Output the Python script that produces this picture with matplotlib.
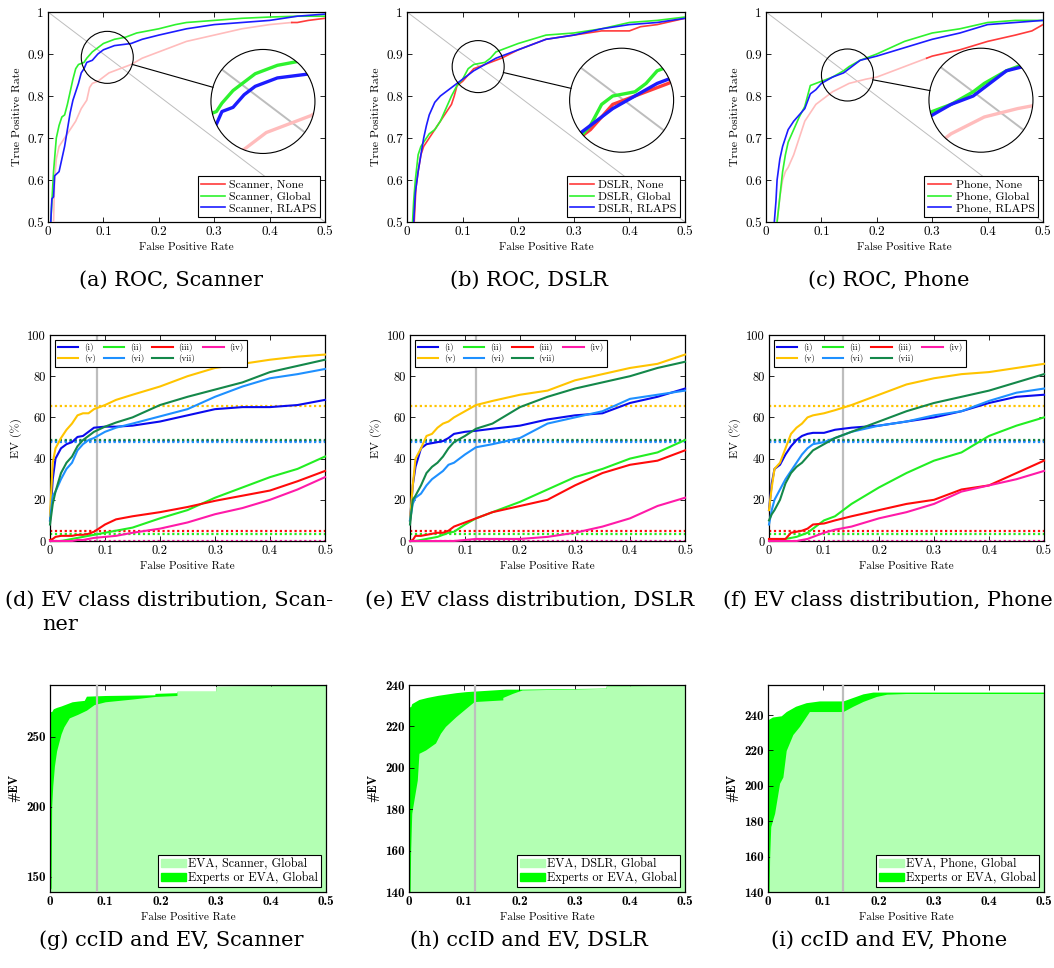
import numpy as np
import matplotlib
matplotlib.use('Agg')
import matplotlib.pyplot as plt
from matplotlib.patches import Circle, Ellipse, Patch
from matplotlib.lines import Line2D
from matplotlib.ticker import FuncFormatter

# ---------------------------------------------------------------- data
DEVICES = ['Scanner', 'DSLR', 'Phone']

# ROC curves (FPR, TPR)
SCN_NONE_FPR = [0.01,0.012,0.015,0.02,0.03,0.04,0.05,0.06,0.07,0.075,0.08,0.09,0.1,0.11,0.13,0.15,0.17,0.2,0.22,0.25,0.3,0.35,0.4,0.44,0.45,0.47,0.5]
SCN_NONE_TPR = [0.5,0.6,0.65,0.68,0.7,0.72,0.74,0.77,0.79,0.82,0.83,0.835,0.845,0.855,0.865,0.875,0.89,0.905,0.915,0.93,0.945,0.96,0.97,0.975,0.975,0.98,0.985]
SCN_GLOB_FPR = [0.005,0.01,0.015,0.02,0.025,0.03,0.035,0.04,0.045,0.05,0.055,0.065,0.07,0.08,0.09,0.1,0.12,0.14,0.16,0.18,0.2,0.23,0.25,0.3,0.35,0.4,0.45,0.5]
SCN_GLOB_TPR = [0.5,0.62,0.7,0.73,0.75,0.755,0.78,0.81,0.84,0.865,0.875,0.88,0.89,0.905,0.915,0.925,0.935,0.94,0.95,0.955,0.96,0.97,0.975,0.98,0.985,0.988,0.99,0.99]
SCN_RLAP_FPR = [0.005,0.007,0.01,0.012,0.02,0.025,0.03,0.035,0.04,0.045,0.05,0.055,0.06,0.065,0.07,0.08,0.09,0.1,0.11,0.12,0.15,0.17,0.2,0.25,0.3,0.35,0.4,0.45,0.5]
SCN_RLAP_TPR = [0.5,0.555,0.56,0.61,0.62,0.65,0.68,0.72,0.76,0.79,0.81,0.83,0.855,0.865,0.88,0.885,0.9,0.91,0.915,0.92,0.925,0.935,0.945,0.96,0.97,0.975,0.98,0.99,0.995]

DSL_NONE_FPR = [0.013,0.016,0.02,0.025,0.03,0.04,0.05,0.06,0.07,0.08,0.085,0.09,0.1,0.11,0.12,0.13,0.15,0.17,0.2,0.25,0.3,0.35,0.4,0.42,0.45,0.5]
DSL_NONE_TPR = [0.5,0.58,0.62,0.66,0.68,0.7,0.72,0.74,0.76,0.78,0.8,0.825,0.835,0.85,0.865,0.87,0.88,0.89,0.91,0.935,0.945,0.955,0.955,0.965,0.97,0.985]
DSL_GLOB_FPR = [0.01,0.012,0.015,0.02,0.025,0.03,0.04,0.05,0.06,0.07,0.08,0.09,0.1,0.11,0.12,0.14,0.15,0.16,0.18,0.2,0.25,0.3,0.35,0.4,0.45,0.5]
DSL_GLOB_TPR = [0.5,0.55,0.6,0.66,0.68,0.69,0.71,0.72,0.74,0.77,0.8,0.825,0.84,0.865,0.875,0.88,0.89,0.905,0.915,0.925,0.945,0.95,0.96,0.975,0.98,0.988]
DSL_RLAP_FPR = [0.012,0.015,0.02,0.025,0.03,0.035,0.04,0.05,0.06,0.07,0.08,0.09,0.1,0.12,0.14,0.16,0.18,0.2,0.25,0.3,0.35,0.4,0.45,0.5]
DSL_RLAP_TPR = [0.5,0.57,0.62,0.66,0.7,0.73,0.755,0.785,0.8,0.81,0.82,0.83,0.84,0.86,0.875,0.89,0.9,0.91,0.935,0.945,0.96,0.97,0.975,0.985]

PHN_NONE_FPR = [0.02,0.025,0.03,0.035,0.04,0.05,0.06,0.07,0.08,0.09,0.1,0.12,0.15,0.18,0.2,0.22,0.25,0.28,0.29,0.3,0.35,0.4,0.45,0.48,0.5]
PHN_NONE_TPR = [0.5,0.56,0.6,0.62,0.63,0.66,0.7,0.74,0.76,0.78,0.79,0.81,0.83,0.84,0.845,0.855,0.87,0.885,0.89,0.895,0.91,0.93,0.945,0.955,0.97]
PHN_GLOB_FPR = [0.02,0.025,0.03,0.035,0.04,0.05,0.06,0.07,0.075,0.08,0.09,0.1,0.12,0.14,0.15,0.17,0.2,0.25,0.3,0.35,0.4,0.45,0.5]
PHN_GLOB_TPR = [0.5,0.56,0.62,0.66,0.69,0.72,0.75,0.775,0.8,0.825,0.83,0.835,0.845,0.86,0.87,0.885,0.9,0.93,0.95,0.96,0.975,0.98,0.98]
PHN_RLAP_FPR = [0.015,0.018,0.02,0.025,0.03,0.04,0.05,0.06,0.07,0.08,0.09,0.1,0.12,0.14,0.15,0.17,0.2,0.25,0.3,0.35,0.4,0.45,0.5]
PHN_RLAP_TPR = [0.5,0.55,0.6,0.65,0.68,0.72,0.74,0.755,0.77,0.805,0.815,0.83,0.845,0.855,0.865,0.885,0.895,0.915,0.935,0.95,0.97,0.975,0.98]

# FPR up to which the "None" curve is drawn pale
NONE_PALE_UNTIL = [0.44, 0.0, 0.29]

# EV class distribution (percent) on a common FPR grid
EV_FPR = [0, 0.005, 0.01, 0.02, 0.03, 0.04, 0.05, 0.06, 0.07, 0.08, 0.1, 0.12, 0.15, 0.2, 0.25, 0.3, 0.35, 0.4, 0.45, 0.5]
EV_CLASSES = ['(i)', '(ii)', '(iii)', '(iv)', '(v)', '(vi)', '(vii)']
EV_PRIOR = [48.5, 3.5, 5.0, 0.0, 65.5, 48.0, 49.0]

EV_SCN_I   = [10,30,40,45,47,48,50.5,51,53,55,55.5,55.5,56,58,61,64,65,65,66,68.5]
EV_SCN_II  = [0,0,0,0,0.5,1,1.5,2,2.5,3,4,5,6.5,11,15,21,26,31,35,41]
EV_SCN_III = [0.5,1,2,2.5,2.5,2.5,3,3,3.5,4.5,8,10.5,12,14,16.5,19.5,22,24.5,29,34]
EV_SCN_IV  = [0,0,0,0,0,0,0.5,0.5,1,1.5,2,2.5,4,6,9,13,16,20,25,31]
EV_SCN_V   = [12,38,45,50,54,57,61,62,62,64,66,68.5,71,75,80,84,86,88,89.5,90.5]
EV_SCN_VI  = [10,22,24,30,35,38,44,47,49,50,53,55,57,60.5,64,70,75,79,81,83.5]
EV_SCN_VII = [8,18,24,33,38,41,46,49,51,53,55.5,57.5,60,66,70,73.5,77,82,85,88]

EV_DSL_I   = [10,27,36,45,47,47.5,48,48.5,50,52,53,53.5,54.5,56,59,61,62,67,70,74]
EV_DSL_II  = [0,0,0,0.5,1,1.5,2,3,4,4.5,8,11,14,19,25,31,35,40,43,49]
EV_DSL_III = [0,0.5,2.5,2.5,3,3.5,4,4,5,7,9,11,14,17,20,27,33,37,39,44]
EV_DSL_IV  = [0,0,0,0,0,0,0,0,0,0,0.5,1,1,1,2,4,7,11,17,21]
EV_DSL_V   = [10,27,40,45,51,52,55,57,58,60,63,66,68,71,73,78,81,84,86,90.5]
EV_DSL_VI  = [10,18,21,23,27,30,32,34,37,38,42,45.5,47,50,57,60,63,69,71,73]
EV_DSL_VII = [8,20,22,27,33,36,38,41,45,48,51,54.5,57,65,70,74,77,80,84,87]

EV_PHN_I   = [15,28,35,37,42,46,49,51,52,52.5,52.5,54,55,56,58,60,63,67,70,71]
EV_PHN_II  = [0,0,0,0.5,1,1.5,2,3,4,6,10,12,18,26,33,39,43,51,56,60]
EV_PHN_III = [1,1,1,1,1,4,4.5,5,6,8,8.5,10,12,15,18,20,25,27,33,39]
EV_PHN_IV  = [0,0,0,0,0,0,0,0.5,1,2,4,5.5,7,11,14,18,24,27,30,34]
EV_PHN_V   = [15,26,35,38,45,52,55,57,60,61,62,63.5,66,71,76,79,81,82,84,86]
EV_PHN_VI  = [8,15,20,25,30,34,38,42,45,47,48,50,53,56,58,61,63,68,72,74]
EV_PHN_VII = [10,13,15,20,28,33,36,38,41,44,47,50,53,58,63,67,70,73,77,81]

# operating-point FPR (grey vertical line)
OP_FPR = [0.085, 0.12, 0.135]

# ccID / #EV curves (upper: experts or EVA, lower: EVA)
CC_SCN_EXP_X = [0,0.003,0.006,0.012,0.02,0.03,0.04,0.05,0.062,0.066,0.1,0.19,0.19,0.23,0.23,0.3,0.3,0.5]
CC_SCN_EXP_Y = [268,268,270,271,272,273.5,275,275.5,276,279,279.5,280,281,281.5,282.5,282.5,286,286.5]
CC_SCN_EVA_X = [0,0.002,0.003,0.005,0.008,0.012,0.02,0.025,0.035,0.05,0.066,0.08,0.1,0.15,0.19,0.23,0.23,0.3,0.3,0.5]
CC_SCN_EVA_Y = [140,142,200,215,229,240,252,257,263.5,266,269,273,275,277,278.8,279.5,282.5,282.5,286,286.5]

CC_DSL_EXP_X = [0,0.003,0.005,0.018,0.033,0.052,0.085,0.103,0.175,0.205,0.357,0.357,0.5]
CC_DSL_EXP_Y = [229.5,229.5,231,233,234,235,236.3,236.8,238,238,238.5,239.5,240]
CC_DSL_EVA_X = [0,0.002,0.003,0.005,0.009,0.015,0.018,0.03,0.048,0.057,0.066,0.085,0.103,0.118,0.17,0.17,0.188,0.205,0.357,0.357,0.5]
CC_DSL_EVA_Y = [140,140,160,178,184.5,194,207,208.6,212,216.7,220,224.7,228.7,232,232.8,234,236,237.6,238.4,239.5,240]

CC_PHN_EXP_X = [0,0.008,0.024,0.033,0.05,0.069,0.093,0.136,0.154,0.172,0.19,0.5]
CC_PHN_EXP_Y = [237.4,238.9,239.6,242,245,247,248,248,250,252,253,253]
CC_PHN_EVA_X = [0,0.002,0.003,0.005,0.012,0.021,0.027,0.033,0.045,0.057,0.075,0.136,0.154,0.172,0.196,0.215,0.25,0.5]
CC_PHN_EVA_Y = [140,140,160,177,184.5,201.5,205,220,229,233.6,242,242,245,247.7,250.5,251.8,252.2,252.2]

CC_YLIM = [(139, 287), (140, 240), (140, 257)]
CC_YTICKS = [[150, 200, 250], [140, 160, 180, 200, 220, 240], [140, 160, 180, 200, 220, 240]]

DIAG_X = [0, 0.5]
DIAG_Y = [1, 0.5]

CAPTIONS_ROW1 = ['(a) ROC, Scanner', '(b) ROC, DSLR', '(c) ROC, Phone']
CAPTIONS_ROW2 = ['(d) EV class distribution, Scan-', '(e) EV class distribution, DSLR', '(f) EV class distribution, Phone']
CAPTIONS_ROW3 = ['(g) ccID and EV, Scanner', '(h) ccID and EV, DSLR', '(i) ccID and EV, Phone']

# ---------------------------------------------------------------- style
plt.rcParams['font.family'] = 'cmr10'
plt.rcParams['mathtext.fontset'] = 'cm'
plt.rcParams['axes.unicode_minus'] = False
plt.rcParams['axes.formatter.use_mathtext'] = True

W, H = 1054, 968
fig = plt.figure(figsize=(W / 100, H / 100), dpi=100)
CAP_FONT = dict(fontfamily='DejaVu Serif', fontsize=15)

def px_axes(l, r, t, b):
    return fig.add_axes([l / W, 1 - b / H, (r - l) / W, (b - t) / H])

fmt = FuncFormatter(lambda v, p: f'{v:g}')

def style(ax, bold=False, size=9):
    ax.tick_params(direction='in', top=True, right=True, length=3.5, width=0.6,
                   labelsize=size, pad=3)
    for s in ax.spines.values():
        s.set_linewidth(0.9)
    ax.xaxis.set_major_formatter(fmt)
    ax.yaxis.set_major_formatter(fmt)
    if bold:
        for lab in ax.get_xticklabels() + ax.get_yticklabels():
            lab.set_fontfamily('cmb10')

RED = '#ff3b3b'
PINK = '#ffbcbc'
GREEN = '#2ef22e'
BLUE = '#1c1cff'
GREY = '#bdbdbd'

ROC_DATA = [
    (SCN_NONE_FPR, SCN_NONE_TPR, SCN_GLOB_FPR, SCN_GLOB_TPR, SCN_RLAP_FPR, SCN_RLAP_TPR),
    (DSL_NONE_FPR, DSL_NONE_TPR, DSL_GLOB_FPR, DSL_GLOB_TPR, DSL_RLAP_FPR, DSL_RLAP_TPR),
    (PHN_NONE_FPR, PHN_NONE_TPR, PHN_GLOB_FPR, PHN_GLOB_TPR, PHN_RLAP_FPR, PHN_RLAP_TPR),
]
SPY_SMALL = [(0.107, 0.892), (0.128, 0.870), (0.147, 0.850)]
SPY_BIG = [(0.388, 0.787), (0.386, 0.790), (0.388, 0.790)]

ROW1 = [(48, 325), (407, 685), (766, 1043)]
ROW2 = [(50, 325), (410, 685), (769, 1044)]
ROW3 = [(50, 326), (409, 685), (768, 1044)]
CAP_X = [171, 529, 889]


def roc_curves(k):
    nf, nt, gf, gt, rf, rt = [np.asarray(a) for a in ROC_DATA[k]]
    split = NONE_PALE_UNTIL[k]
    out = []
    pale = nf <= split
    if pale.sum() > 1:
        out.append((nf[pale], nt[pale], PINK))
    dark = nf >= split
    out.append((nf[dark], nt[dark], RED))
    out.append((gf, gt, GREEN))
    out.append((rf, rt, BLUE))
    return out


def spy(ax, curves, small, big, r_small=26.0, mag=2.0):
    sx, sy = ax.transData.transform(small)
    bx, by = ax.transData.transform(big)
    r_big = r_small * mag
    inv = ax.transData.inverted()
    x0, y0 = inv.transform((sx - r_small, sy - r_small))
    x1, y1 = inv.transform((sx + r_small, sy + r_small))
    ax.add_patch(Ellipse(small, x1 - x0, y1 - y0, fill=False, ec='black', lw=0.8, zorder=6))
    ax_in = fig.add_axes([(bx - r_big) / W, (by - r_big) / H, 2 * r_big / W, 2 * r_big / H])
    ax_in.set_xlim(x0, x1)
    ax_in.set_ylim(y0, y1)
    ax_in.axis('off')
    circ = Circle((0.5, 0.5), 0.5, transform=ax_in.transAxes, fc='white', ec='none', zorder=0)
    ax_in.add_patch(circ)
    ln, = ax_in.plot(DIAG_X, DIAG_Y, color=GREY, lw=0.7 * mag, zorder=1)
    ln.set_clip_path(circ)
    for x, y, c in curves:
        ln, = ax_in.plot(x, y, color=c, lw=1.2 * mag, zorder=2)
        ln.set_clip_path(circ)
    ax_in.add_patch(Circle((0.5, 0.5), 0.5, transform=ax_in.transAxes, fill=False,
                           ec='black', lw=0.8, clip_on=False, zorder=5))
    d = np.array([bx - sx, by - sy])
    d /= np.hypot(*d)
    p0 = np.array([sx, sy]) + d * r_small
    p1 = np.array([bx, by]) - d * r_big
    fig.add_artist(Line2D([p0[0] / W, p1[0] / W], [p0[1] / H, p1[1] / H],
                          transform=fig.transFigure, color='black', lw=0.8))


LEG_KW = dict(frameon=True, fancybox=False, framealpha=1, edgecolor='black')

# ---------------------------------------------------------------- row 1: ROC
for k, dev in enumerate(DEVICES):
    l, r = ROW1[k]
    ax = px_axes(l, r, 12, 222)
    ax.set_xlim(0, 0.5)
    ax.set_ylim(0.5, 1)
    ax.set_xticks([0, 0.1, 0.2, 0.3, 0.4, 0.5])
    ax.set_yticks([0.5, 0.6, 0.7, 0.8, 0.9, 1])
    style(ax, size=9.5)
    ax.plot(DIAG_X, DIAG_Y, color=GREY, lw=0.7, zorder=1)
    curves = roc_curves(k)
    for x, y, c in curves:
        ax.plot(x, y, color=c, lw=1.2, zorder=3)
    handles = [Line2D([], [], color=RED, lw=1.2), Line2D([], [], color=GREEN, lw=1.2),
               Line2D([], [], color=BLUE, lw=1.2)]
    leg = ax.legend(handles, [f'{dev}, None', f'{dev}, Global', f'{dev}, RLAPS'],
                    loc='lower right', fontsize=8.5, borderpad=0.3, handlelength=2.0,
                    labelspacing=0.12, handletextpad=0.4, borderaxespad=0.4, **LEG_KW)
    leg.get_frame().set_linewidth(0.8)
    leg.set_zorder(10)
    ax.set_xlabel('False Positive Rate', fontsize=8, labelpad=3)
    ax.set_ylabel('True Positive Rate', fontsize=8.5, labelpad=4)
    spy(ax, curves, SPY_SMALL[k], SPY_BIG[k])
    fig.text(CAP_X[k] / W, 1 - 280 / H, CAPTIONS_ROW1[k], ha='center', va='center', **CAP_FONT)

# ---------------------------------------------------------------- row 2: EV
EV_COLORS = ['#0a0aee', '#22ee22', '#ff0a0a', '#ff1aa8', '#ffc400', '#1e90ff', '#14884a']
EV_DATA = [
    [EV_SCN_I, EV_SCN_II, EV_SCN_III, EV_SCN_IV, EV_SCN_V, EV_SCN_VI, EV_SCN_VII],
    [EV_DSL_I, EV_DSL_II, EV_DSL_III, EV_DSL_IV, EV_DSL_V, EV_DSL_VI, EV_DSL_VII],
    [EV_PHN_I, EV_PHN_II, EV_PHN_III, EV_PHN_IV, EV_PHN_V, EV_PHN_VI, EV_PHN_VII],
]
for k, dev in enumerate(DEVICES):
    l, r = ROW2[k]
    ax = px_axes(l, r, 335, 541)
    ax.set_xlim(0, 0.5)
    ax.set_ylim(0, 100)
    ax.set_xticks([0, 0.1, 0.2, 0.3, 0.4, 0.5])
    ax.set_yticks([0, 20, 40, 60, 80, 100])
    style(ax, size=9)
    ax.axvline(OP_FPR[k], color=GREY, lw=1.6, zorder=1)
    lines = []
    for j, name in enumerate(EV_CLASSES):
        ax.axhline(EV_PRIOR[j], color=EV_COLORS[j], lw=1.6, ls=(0, (1, 1.2)), zorder=2)
    for j, name in enumerate(EV_CLASSES):
        ln, = ax.plot(EV_FPR, EV_DATA[k][j], color=EV_COLORS[j], lw=1.5, zorder=3,
                      clip_on=False)
        lines.append(ln)
    order = [0, 4, 1, 5, 2, 6, 3]
    leg = ax.legend([lines[i] for i in order], [EV_CLASSES[i] for i in order],
                    loc='upper left', ncol=4, fontsize=6.5, borderpad=0.35, handlelength=2.3,
                    labelspacing=0.3, handletextpad=0.6, columnspacing=0.9,
                    borderaxespad=0.5, **LEG_KW)
    leg.get_frame().set_linewidth(0.8)
    leg.set_zorder(10)
    ax.set_xlabel('False Positive Rate', fontsize=8, labelpad=3)
    ax.set_ylabel('EV (%)', fontsize=8.5, labelpad=4)

fig.text(5 / W, 1 - 600 / H, CAPTIONS_ROW2[0], ha='left', va='center', **CAP_FONT)
fig.text(42 / W, 1 - 625 / H, 'ner', ha='left', va='center', **CAP_FONT)
fig.text(365 / W, 1 - 600 / H, CAPTIONS_ROW2[1], ha='left', va='center', **CAP_FONT)
fig.text(723 / W, 1 - 600 / H, CAPTIONS_ROW2[2], ha='left', va='center', **CAP_FONT)

# ---------------------------------------------------------------- row 3: ccID and EV
CC_DATA = [
    (CC_SCN_EXP_X, CC_SCN_EXP_Y, CC_SCN_EVA_X, CC_SCN_EVA_Y),
    (CC_DSL_EXP_X, CC_DSL_EXP_Y, CC_DSL_EVA_X, CC_DSL_EVA_Y),
    (CC_PHN_EXP_X, CC_PHN_EXP_Y, CC_PHN_EVA_X, CC_PHN_EVA_Y),
]
LIGHT = '#b3ffb3'
BRIGHT = '#00ff00'
for k, dev in enumerate(DEVICES):
    l, r = ROW3[k]
    ax = px_axes(l, r, 685, 892)
    ex, ey, vx, vy = CC_DATA[k]
    lo, hi = CC_YLIM[k]
    ax.fill_between(ex, lo, ey, color=BRIGHT, lw=0, zorder=1)
    ax.fill_between(vx, lo, vy, color=LIGHT, lw=0, zorder=2)
    ax.axvline(OP_FPR[k], color=GREY, lw=1.6, zorder=3)
    ax.set_xlim(0, 0.5)
    ax.set_ylim(lo, hi)
    ax.set_xticks([0, 0.1, 0.2, 0.3, 0.4, 0.5])
    ax.set_yticks(CC_YTICKS[k])
    style(ax, bold=True, size=9.5)
    handles = [Patch(color=LIGHT), Patch(color=BRIGHT)]
    leg = ax.legend(handles, [f'EVA, {dev}, Global', 'Experts or EVA, Global'],
                    loc='lower right', fontsize=8.8, borderpad=0.25, handlelength=2.0,
                    handleheight=0.7, labelspacing=0.1, handletextpad=0.2,
                    borderaxespad=0.4, **LEG_KW)
    leg.get_frame().set_linewidth(0.8)
    leg.set_zorder(10)
    ax.set_xlabel('False Positive Rate', fontsize=8, labelpad=3)
    ax.set_ylabel('#EV', fontsize=9, labelpad=4, fontfamily='cmb10')
    fig.text(CAP_X[k] / W, 1 - 940 / H, CAPTIONS_ROW3[k], ha='center', va='center', **CAP_FONT)

fig.savefig('out.png', dpi=100)
